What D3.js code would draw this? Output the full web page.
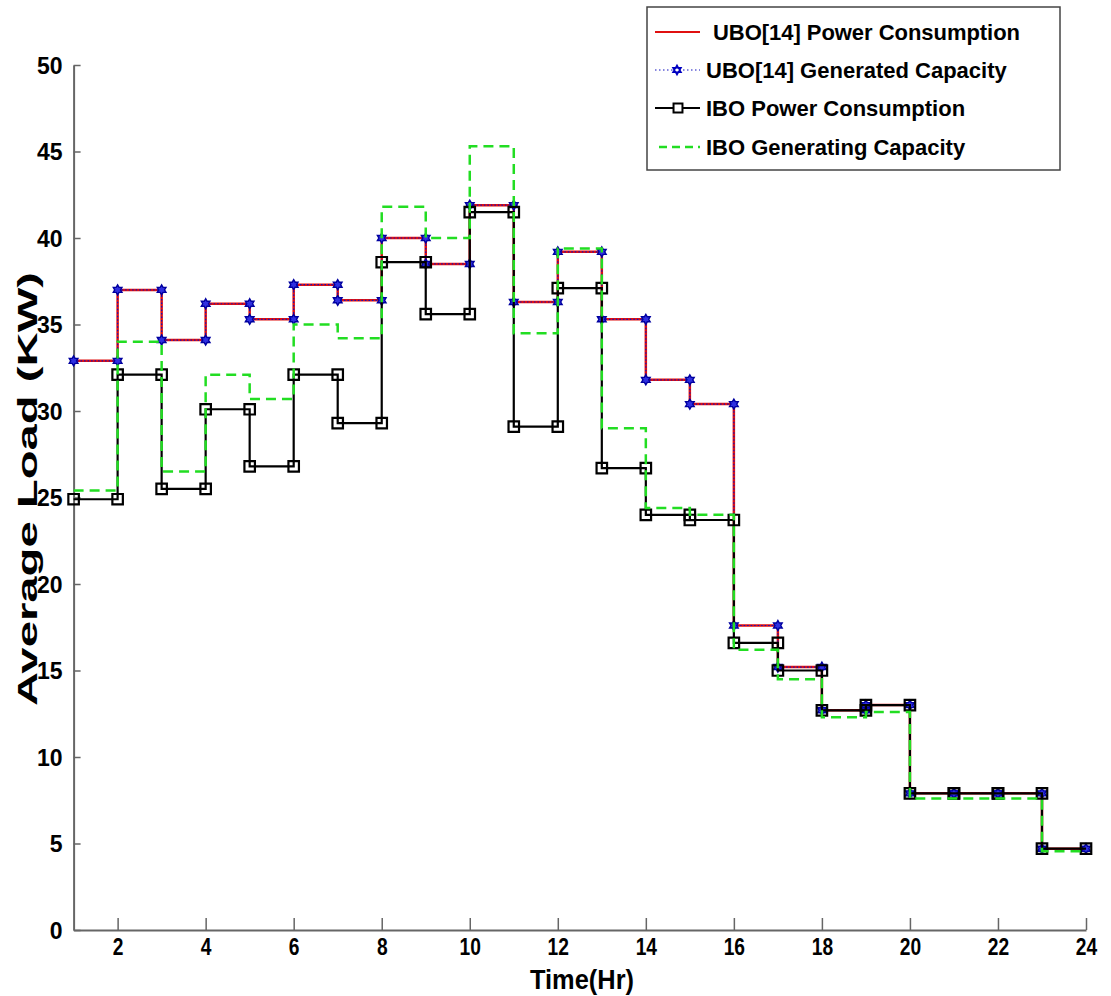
<!DOCTYPE html>
<html>
<head>
<meta charset="utf-8">
<script src="https://cdn.jsdelivr.net/npm/d3@7"></script>
<style>
  body { margin: 0; background: #fff; }
  svg { display: block; }
</style>
</head>
<body>
<div id="chart"></div>
<script>
// hour marks (stair vertices) 1..24, one value per hour interval
var hours = d3.range(1, 25);
var uboLoad = [32.9, 37.0, 34.1, 36.2, 35.3, 37.3, 36.4, 40.0, 38.5, 41.9, 36.3, 39.2,
               35.3, 31.8, 30.4, 17.6, 15.2, 12.7, 13.0, 7.9, 7.9, 7.9, 4.7];
var iboLoad = [24.9, 32.1, 25.5, 30.1, 26.8, 32.1, 29.3, 38.6, 35.6, 41.5, 29.1, 37.1,
               26.7, 24.0, 23.7, 16.6, 15.0, 12.7, 13.0, 7.9, 7.9, 7.9, 4.7];
var iboGen  = [25.4, 34.0, 26.5, 32.1, 30.7, 35.0, 34.2, 41.8, 40.0, 45.3, 34.5, 39.4,
               29.0, 24.4, 24.0, 16.2, 14.5, 12.3, 12.6, 7.6, 7.6, 7.6, 4.55];
var xTicks = [2, 4, 6, 8, 10, 12, 14, 16, 18, 20, 22, 24];
var yTicks = [0, 5, 10, 15, 20, 25, 30, 35, 40, 45, 50];
var legendNames = ["UBO[14] Power Consumption", "UBO[14] Generated Capacity",
                   "IBO Power Consumption", "IBO Generating Capacity"];

var W = 1111, H = 996;
var x = d3.scaleLinear().domain([1, 24]).range([73.6, 1086]);
var y = d3.scaleLinear().domain([0, 50]).range([930, 65]);

var svg = d3.select("#chart").append("svg")
  .attr("width", W).attr("height", H);

// turn interval values into stair vertices
function stairs(vals) {
  var pts = [];
  vals.forEach(function(v, i) {
    pts.push([hours[i], v]);
    pts.push([hours[i + 1], v]);
  });
  return pts;
}

var line = d3.line()
  .x(function(d) { return x(d[0]); })
  .y(function(d) { return y(d[1]); });

var font = "'Liberation Sans', Arial, sans-serif";

// matlab-like hexagram marker
var hexagram = {
  draw: function(ctx, size) {
    var r = Math.sqrt(size) / 2, ri = r / Math.sqrt(3);
    for (var k = 0; k < 12; k++) {
      var a = Math.PI / 2 + k * Math.PI / 6, rr = k % 2 ? ri : r;
      var px = rr * Math.cos(a), py = -rr * Math.sin(a);
      if (k === 0) ctx.moveTo(px, py); else ctx.lineTo(px, py);
    }
    ctx.closePath();
  }
};

// axes
var xAxis = d3.axisBottom(x).tickValues(xTicks).tickSizeInner(-12).tickSizeOuter(0).tickPadding(8);
var yAxis = d3.axisLeft(y).tickValues(yTicks).tickSizeInner(-7).tickSizeOuter(0).tickPadding(11);

var gx = svg.append("g").attr("transform", "translate(0," + y(0) + ")").call(xAxis);
gx.select(".domain").attr("stroke", "#666").attr("stroke-width", 2);
gx.selectAll(".tick line").attr("stroke", "#666").attr("stroke-width", 1.5);
gx.selectAll("text")
  .attr("fill", "#000")
  .attr("transform", "scale(0.8,1)")
  .style("font-family", font)
  .style("font-weight", "bold")
  .style("font-size", "24px");

var gy = svg.append("g").attr("transform", "translate(" + x(1) + ",0)").call(yAxis);
gy.select(".domain").attr("stroke", "#666").attr("stroke-width", 2);
gy.selectAll(".tick line").attr("stroke", "#666").attr("stroke-width", 1.5);
gy.selectAll("text")
  .attr("fill", "#000")
  .attr("dy", "0.36em")
  .style("font-family", font)
  .style("font-weight", "bold")
  .style("font-size", "23px");

// axis titles
svg.append("text")
  .attr("x", 582).attr("y", 989)
  .attr("text-anchor", "middle")
  .attr("textLength", 104)
  .attr("lengthAdjust", "spacingAndGlyphs")
  .style("font-family", font)
  .style("font-weight", "bold")
  .style("font-size", "27px")
  .text("Time(Hr)");

svg.append("text")
  .attr("text-anchor", "middle")
  .attr("transform", "translate(37,489)rotate(-90)")
  .attr("textLength", 434)
  .attr("lengthAdjust", "spacingAndGlyphs")
  .style("font-family", font)
  .style("font-weight", "bold")
  .style("font-size", "27px")
  .text("Average Load (KW)");

// series
var uboPts = stairs(uboLoad), iboPts = stairs(iboLoad), genPts = stairs(iboGen);
var star = d3.symbol().type(hexagram).size(100);
var square = d3.symbol().type(d3.symbolSquare).size(110);

svg.append("path").datum(uboPts).attr("d", line)
  .attr("fill", "none").attr("stroke", "#e01010").attr("stroke-width", 2.5);
svg.append("path").datum(uboPts).attr("d", line)
  .attr("fill", "none").attr("stroke", "#1010c0").attr("stroke-width", 1.2)
  .attr("stroke-dasharray", "1.5,2");
svg.selectAll(".ubo-mark").data(uboPts).enter().append("path")
  .attr("class", "ubo-mark")
  .attr("d", star)
  .attr("transform", function(d) { return "translate(" + x(d[0]) + "," + y(d[1]) + ")"; })
  .attr("fill", "#3030e0").attr("stroke", "#0000a0").attr("stroke-width", 1.4);

svg.append("path").datum(iboPts).attr("d", line)
  .attr("fill", "none").attr("stroke", "#000").attr("stroke-width", 2.2);
svg.selectAll(".ibo-mark").data(iboPts).enter().append("path")
  .attr("class", "ibo-mark")
  .attr("d", square)
  .attr("transform", function(d) { return "translate(" + x(d[0]) + "," + y(d[1]) + ")"; })
  .attr("fill", "none").attr("stroke", "#000").attr("stroke-width", 2.2);

svg.append("path").datum(genPts).attr("d", line)
  .attr("fill", "none").attr("stroke", "#22dd22").attr("stroke-width", 2.5)
  .attr("stroke-dasharray", "10,6");

// legend
var lg = svg.append("g");
lg.append("rect")
  .attr("x", 647).attr("y", 7).attr("width", 413).attr("height", 163)
  .attr("fill", "#fff").attr("stroke", "#444").attr("stroke-width", 1.5);

var rowY = [32, 70, 108, 147];
var textX = [713, 706, 706, 706];
legendNames.forEach(function(name, i) {
  var ry = rowY[i];
  if (i === 0) {
    lg.append("line").attr("x1", 655).attr("x2", 700).attr("y1", ry).attr("y2", ry)
      .attr("stroke", "#e01010").attr("stroke-width", 2);
  } else if (i === 1) {
    lg.append("line").attr("x1", 655).attr("x2", 700).attr("y1", ry).attr("y2", ry)
      .attr("stroke", "#1010c0").attr("stroke-width", 1.2).attr("stroke-dasharray", "1.5,2.5");
    lg.append("path").attr("d", d3.symbol().type(hexagram).size(70))
      .attr("transform", "translate(677," + ry + ")")
      .attr("fill", "#fff").attr("stroke", "#0000c0").attr("stroke-width", 2);
  } else if (i === 2) {
    lg.append("line").attr("x1", 655).attr("x2", 700).attr("y1", ry).attr("y2", ry)
      .attr("stroke", "#000").attr("stroke-width", 2);
    lg.append("path").attr("d", d3.symbol().type(d3.symbolSquare).size(80))
      .attr("transform", "translate(678," + ry + ")")
      .attr("fill", "#fff").attr("stroke", "#000").attr("stroke-width", 2);
  } else {
    lg.append("line").attr("x1", 659).attr("x2", 700).attr("y1", ry).attr("y2", ry)
      .attr("stroke", "#22dd22").attr("stroke-width", 2.5).attr("stroke-dasharray", "8,5");
  }
  lg.append("text")
    .attr("x", textX[i]).attr("y", ry).attr("dy", "0.36em")
    .attr("textLength", i === 0 ? 307 : null)
    .style("font-family", font)
    .style("font-weight", "bold")
    .style("font-size", "22px")
    .text(name);
});
</script>
</body>
</html>
